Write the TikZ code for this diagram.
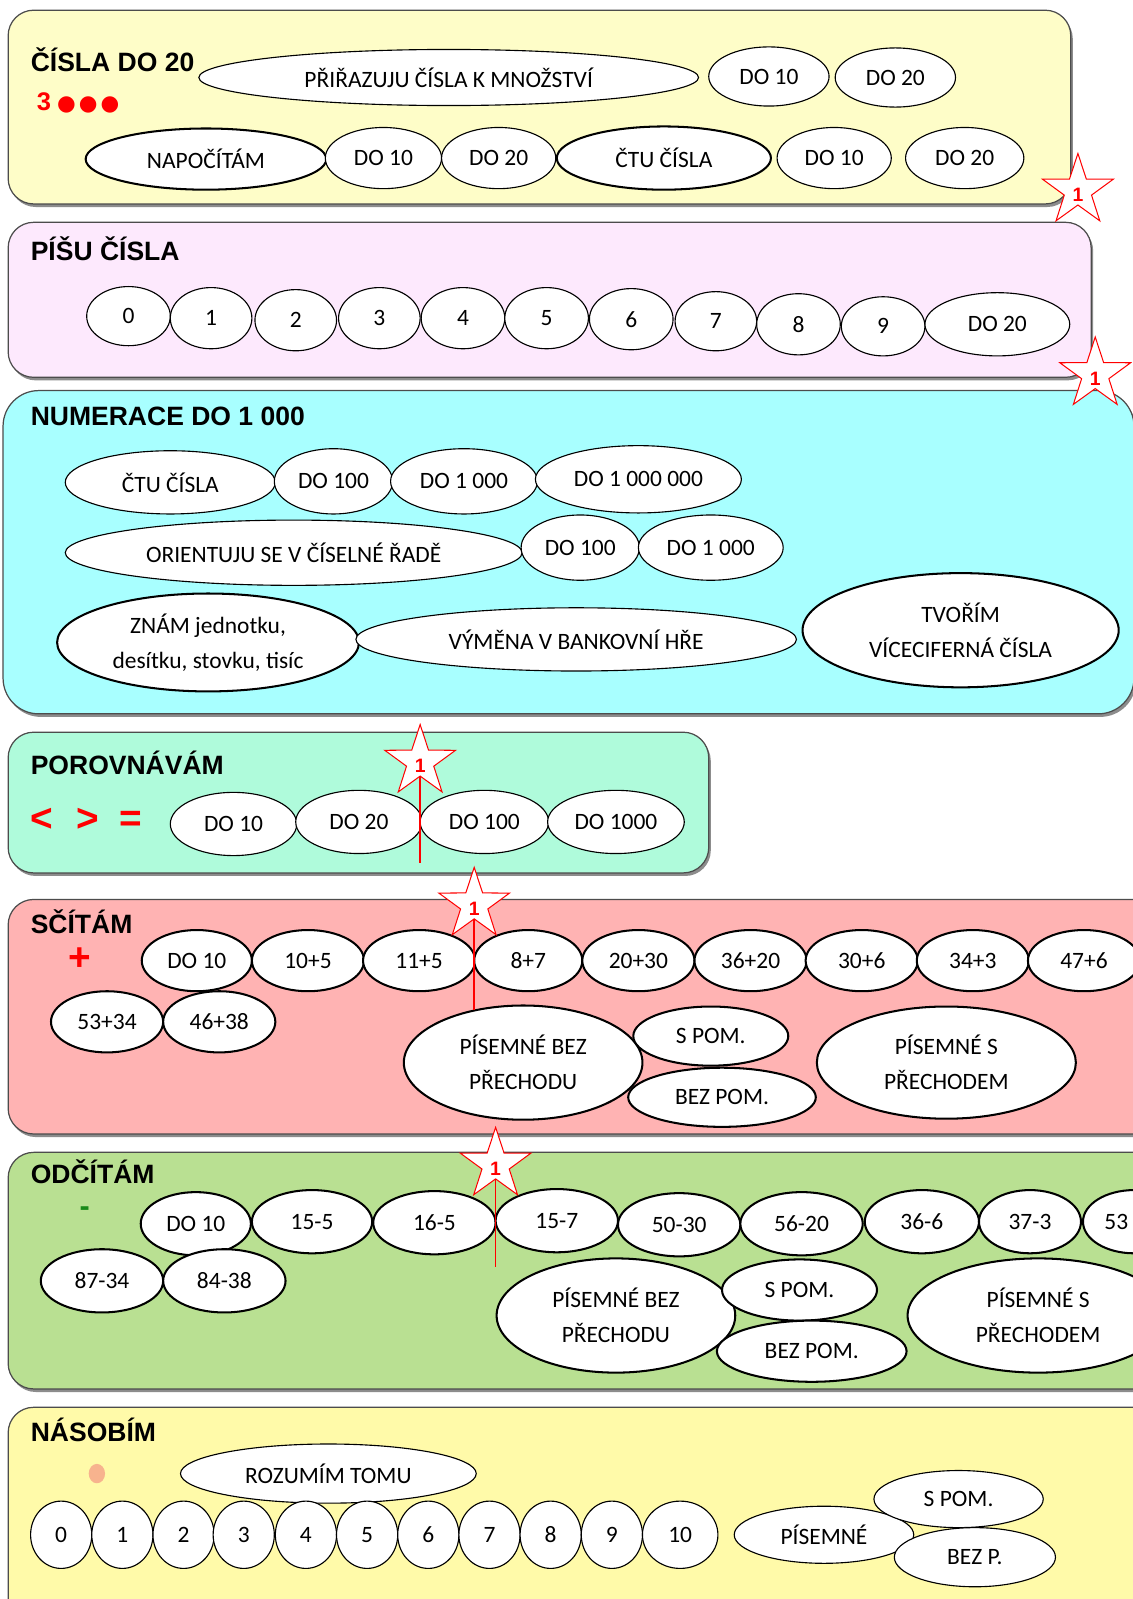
\documentclass[tikz,border=0pt]{standalone}
\usepackage{fontspec}
\setmainfont{Carlito}
\newfontfamily\tf{Liberation Sans}
\newfontfamily\djfont{DejaVu Sans}
\usetikzlibrary{shapes.geometric}
\definecolor{ylA}{HTML}{FEFDC8}
\definecolor{pkA}{HTML}{FDE9FD}
\definecolor{cyA}{HTML}{A8FFFF}
\definecolor{miA}{HTML}{AFFBDB}
\definecolor{rdA}{HTML}{FFB3B3}
\definecolor{grA}{HTML}{B9E092}
\definecolor{ylB}{HTML}{FFFAA9}
\definecolor{orA}{HTML}{F7B38E}
\definecolor{grD}{HTML}{1A8A1A}
\tikzset{
  panel/.style={draw=black!70, line width=1.2pt, rounded corners=25pt},
  pshadow/.style={fill=black!45, rounded corners=25pt},
  el/.style={ellipse, draw=black, line width=1.1pt, fill=white, inner sep=0pt,
    font=\fontsize{23}{34}\selectfont, align=center},
  thk/.style={line width=2pt},
  wh/.style 2 args={minimum width=#1pt, minimum height=#2pt},
  ttl/.style={anchor=base west, inner sep=0pt, font=\tf\bfseries\fontsize{26}{30}\selectfont},
  starnode/.style={star, star points=5, star point ratio=2.6, minimum size=73pt,
    inner sep=0pt, draw=red, line width=1pt, fill=white, text=red,
    font=\tf\bfseries\fontsize{19}{19}\selectfont},
  redline/.style={draw=red, line width=1.6pt}
}
\newcommand{\starone}{\raisebox{-4pt}[\height][0pt]{1}}
\begin{document}
\begin{tikzpicture}[x=1pt,y=-1pt]
\useasboundingbox (0,0) rectangle (1111,1568);
\fill[white] (0,0) rectangle (1111,1568);
\clip (0,0) rectangle (1111,1568);

% ---------- panel 1
\fill[pshadow] (10,13) rectangle (1052,203);
\draw[panel, fill=ylA] (8,10) rectangle (1050,200);
\node[ttl] (t1) at (30,70) {ČÍSLA DO 20};
\node[anchor=west, inner sep=0pt, text=red] (dots1) at (36,101)
  {{\tf\bfseries\fontsize{25}{25}\selectfont 3}\hspace{6pt}{\djfont\fontsize{21}{21}\selectfont ●\hspace{3pt}●\hspace{3pt}●}};
\node[el, wh={490}{55}] (p1a) at (440,76) {PŘIŘAZUJU ČÍSLA K MNOŽSTVÍ};
\node[el, wh={118}{58}] (p1b) at (754,75) {DO 10};
\node[el, wh={118}{58}] (p1c) at (878,76) {DO 20};
\node[el, thk, wh={236}{60}] (p1d) at (202,156) {NAPOČÍTÁM};
\node[el, wh={114}{60}] (p1e) at (376,155) {DO 10};
\node[el, wh={112}{60}] (p1f) at (489,155) {DO 20};
\node[el, thk, wh={210}{62}] (p1g) at (651,155) {ČTU ČÍSLA};
\node[el, wh={112}{60}] (p1h) at (818,155) {DO 10};
\node[el, wh={116}{60}] (p1i) at (946,155) {DO 20};

% ---------- panel 2
\fill[pshadow] (10,221) rectangle (1072,373);
\draw[panel, fill=pkA] (8,218) rectangle (1070,370);
\node[ttl] (t2) at (30,255) {PÍŠU ČÍSLA};
\node[el, wh={82}{58}] (n0) at (126,310) {0};
\node[el, wh={80}{60}] (n1) at (207,312) {1};
\node[el, wh={80}{60}] (n2) at (290,314) {2};
\node[el, wh={80}{60}] (n3) at (372,312) {3};
\node[el, wh={82}{60}] (n4) at (454,312) {4};
\node[el, wh={82}{60}] (n5) at (536,312) {5};
\node[el, wh={82}{60}] (n6) at (619,313) {6};
\node[el, wh={80}{58}] (n7) at (702,315) {7};
\node[el, wh={82}{60}] (n8) at (783,318) {8};
\node[el, wh={82}{58}] (n9) at (866,320) {9};
\node[el, wh={142}{62}] (n20) at (978,318) {DO 20};

% ---------- panel 3
\fill[black!45, rounded corners=35pt] (5,386) rectangle (1114,703);
\draw[panel, rounded corners=35pt, fill=cyA] (3,383) rectangle (1112,700);
\node[ttl] (t3) at (30,417) {NUMERACE DO 1 000};
\node[el, wh={206}{62}] (c1) at (167,473) {ČTU ČÍSLA};
\node[el, wh={116}{64}] (c2) at (327,472) {DO 100};
\node[el, wh={144}{64}] (c3) at (455,472) {DO 1 000};
\node[el, wh={202}{66}] (c4) at (626,470) {DO 1 000 000};
\node[el, wh={448}{64}] (o1) at (288,542) {ORIENTUJU SE V ČÍSELNÉ ŘADĚ};
\node[el, wh={116}{64}] (o2) at (569,537) {DO 100};
\node[el, wh={142}{64}] (o3) at (697,537) {DO 1 000};
\node[el, thk, wh={296}{96}] (z1) at (204,630) {ZNÁM jednotku,\\desítku, stovku, tisíc};
\node[el, wh={432}{62}] (z2) at (565,627) {VÝMĚNA V BANKOVNÍ HŘE};
\node[el, thk, wh={310}{112}] (z3) at (942,618) {TVOŘÍM\\VÍCECIFERNÁ ČÍSLA};

% ---------- panel 4
\fill[pshadow] (10,721) rectangle (697,859);
\draw[panel, fill=miA] (8,718) rectangle (695,856);
\node[ttl] (t4) at (30,759) {POROVNÁVÁM};
\node[anchor=west, inner sep=0pt, text=red, font=\tf\bfseries\fontsize{38}{38}\selectfont] (cmp) at (30,804)
  {<\hspace{23pt}>\hspace{20pt}=};
\node[el, wh={124}{62}] (r1) at (229,808) {DO 10};
\node[el, wh={124}{62}] (r2) at (352,806) {DO 20};
\node[el, wh={126}{62}] (r3) at (475,806) {DO 100};
\node[el, wh={134}{62}] (r4) at (604,806) {DO 1000};

% ---------- panel 5
\fill[pshadow] (10,885) rectangle (1150,1115);
\draw[panel, fill=rdA] (8,882) rectangle (1148,1112);
\node[ttl] (t5) at (30,915) {SČÍTÁM};
\node[inner sep=0pt, text=red, font=\tf\bfseries\fontsize{38}{38}\selectfont] (plus) at (78,941) {+};
\node[el, thk, wh={108}{60}] (s1) at (193,942) {DO 10};
\node[el, thk, wh={110}{60}] (s2) at (302,942) {10+5};
\node[el, thk, wh={110}{60}] (s3) at (411,942) {11+5};
\node[el, thk, wh={106}{60}] (s4) at (518,942) {8+7};
\node[el, thk, wh={110}{60}] (s5) at (626,942) {20+30};
\node[el, thk, wh={110}{60}] (s6) at (736,942) {36+20};
\node[el, thk, wh={110}{60}] (s7) at (845,942) {30+6};
\node[el, thk, wh={110}{60}] (s8) at (954,942) {34+3};
\node[el, thk, wh={110}{60}] (s9) at (1063,942) {47+6};
\node[el, thk, wh={110}{60}] (s10) at (105,1002) {53+34};
\node[el, thk, wh={110}{60}] (s11) at (215,1002) {46+38};
\node[el, thk, wh={234}{112}] (s12) at (513,1042) {PÍSEMNÉ BEZ\\PŘECHODU};
\node[el, thk, wh={152}{58}] (s13) at (697,1016) {S POM.};
\node[el, thk, wh={184}{58}] (s14) at (708,1076) {BEZ POM.};
\node[el, thk, wh={254}{110}] (s15) at (928,1042) {PÍSEMNÉ S\\PŘECHODEM};

% ---------- panel 6
\fill[pshadow] (10,1133) rectangle (1150,1365);
\draw[panel, fill=grA] (8,1130) rectangle (1148,1362);
\node[ttl] (t6) at (30,1161) {ODČÍTÁM};
\node[inner sep=0pt, text=grD, font=\tf\bfseries\fontsize{30}{30}\selectfont] (minus) at (83,1188) {-};
\node[el, thk, wh={108}{62}] (d1) at (192,1200) {DO 10};
\node[el, thk, wh={118}{62}] (d2) at (306,1198) {15-5};
\node[el, thk, wh={120}{62}] (d3) at (426,1199) {16-5};
\node[el, thk, wh={120}{62}] (d4) at (546,1197) {15-7};
\node[el, thk, wh={120}{62}] (d5) at (666,1201) {50-30};
\node[el, thk, wh={120}{62}] (d6) at (786,1200) {56-20};
\node[el, thk, wh={112}{62}] (d7) at (904,1198) {36-6};
\node[el, thk, wh={100}{62}] (d8) at (1010,1198) {37-3};
\node[el, thk, wh={100}{62}] (d9) at (1112,1198) {53\phantom{+34}};
\node[el, thk, wh={120}{62}] (d10) at (100,1256) {87-34};
\node[el, thk, wh={120}{62}] (d11) at (220,1256) {84-38};
\node[el, thk, wh={234}{112}] (d12) at (604,1290) {PÍSEMNÉ BEZ\\PŘECHODU};
\node[el, thk, wh={152}{60}] (d13) at (784,1265) {S POM.};
\node[el, thk, wh={186}{60}] (d14) at (796,1325) {BEZ POM.};
\node[el, thk, wh={256}{112}] (d15) at (1018,1290) {PÍSEMNÉ S\\PŘECHODEM};

% ---------- panel 7
\fill[pshadow] (10,1383) rectangle (1150,1620);
\draw[panel, fill=ylB] (8,1380) rectangle (1148,1618);
\node[ttl] (t7) at (30,1414) {NÁSOBÍM};
\node[ellipse, fill=orA, inner sep=0pt, wh={16}{19}] (odot) at (95,1445) {};
\node[el, wh={290}{58}] (m0) at (322,1445) {ROZUMÍM TOMU};
\foreach \i/\x in {0/60,1/120,2/180,3/239,4/300,5/360,6/420,7/480,8/540,9/600}{
  \node[el, wh={60}{66}] (k\i) at (\x,1505) {\i};
}
\node[el, wh={74}{66}] (k10) at (667,1505) {10};
\node[el, wh={176}{56}] (mp) at (808,1505) {PÍSEMNÉ};
\node[el, wh={166}{56}] (ms) at (940,1470) {S POM.};
\node[el, wh={158}{58}] (mb) at (956,1527) {BEZ P.};

% ---------- stars
\node[starnode] (st1) at (1057,187) {\starone};
\node[starnode] (st2) at (1074,367) {\starone};
\node[starnode] (st3) at (412,747) {\starone};
\coordinate (e3) at (412,846);
\draw[redline] ([yshift=-14pt]st3.center) -- (e3);
\node[starnode] (st4) at (465,887) {\starone};
\coordinate (e4) at (465,990);
\draw[redline] ([yshift=-14pt]st4.center) -- (e4);
\node[starnode] (st5) at (486,1142) {\starone};
\coordinate (e5) at (486,1242);
\draw[redline] ([yshift=-14pt]st5.center) -- (e5);
\end{tikzpicture}
\end{document}
